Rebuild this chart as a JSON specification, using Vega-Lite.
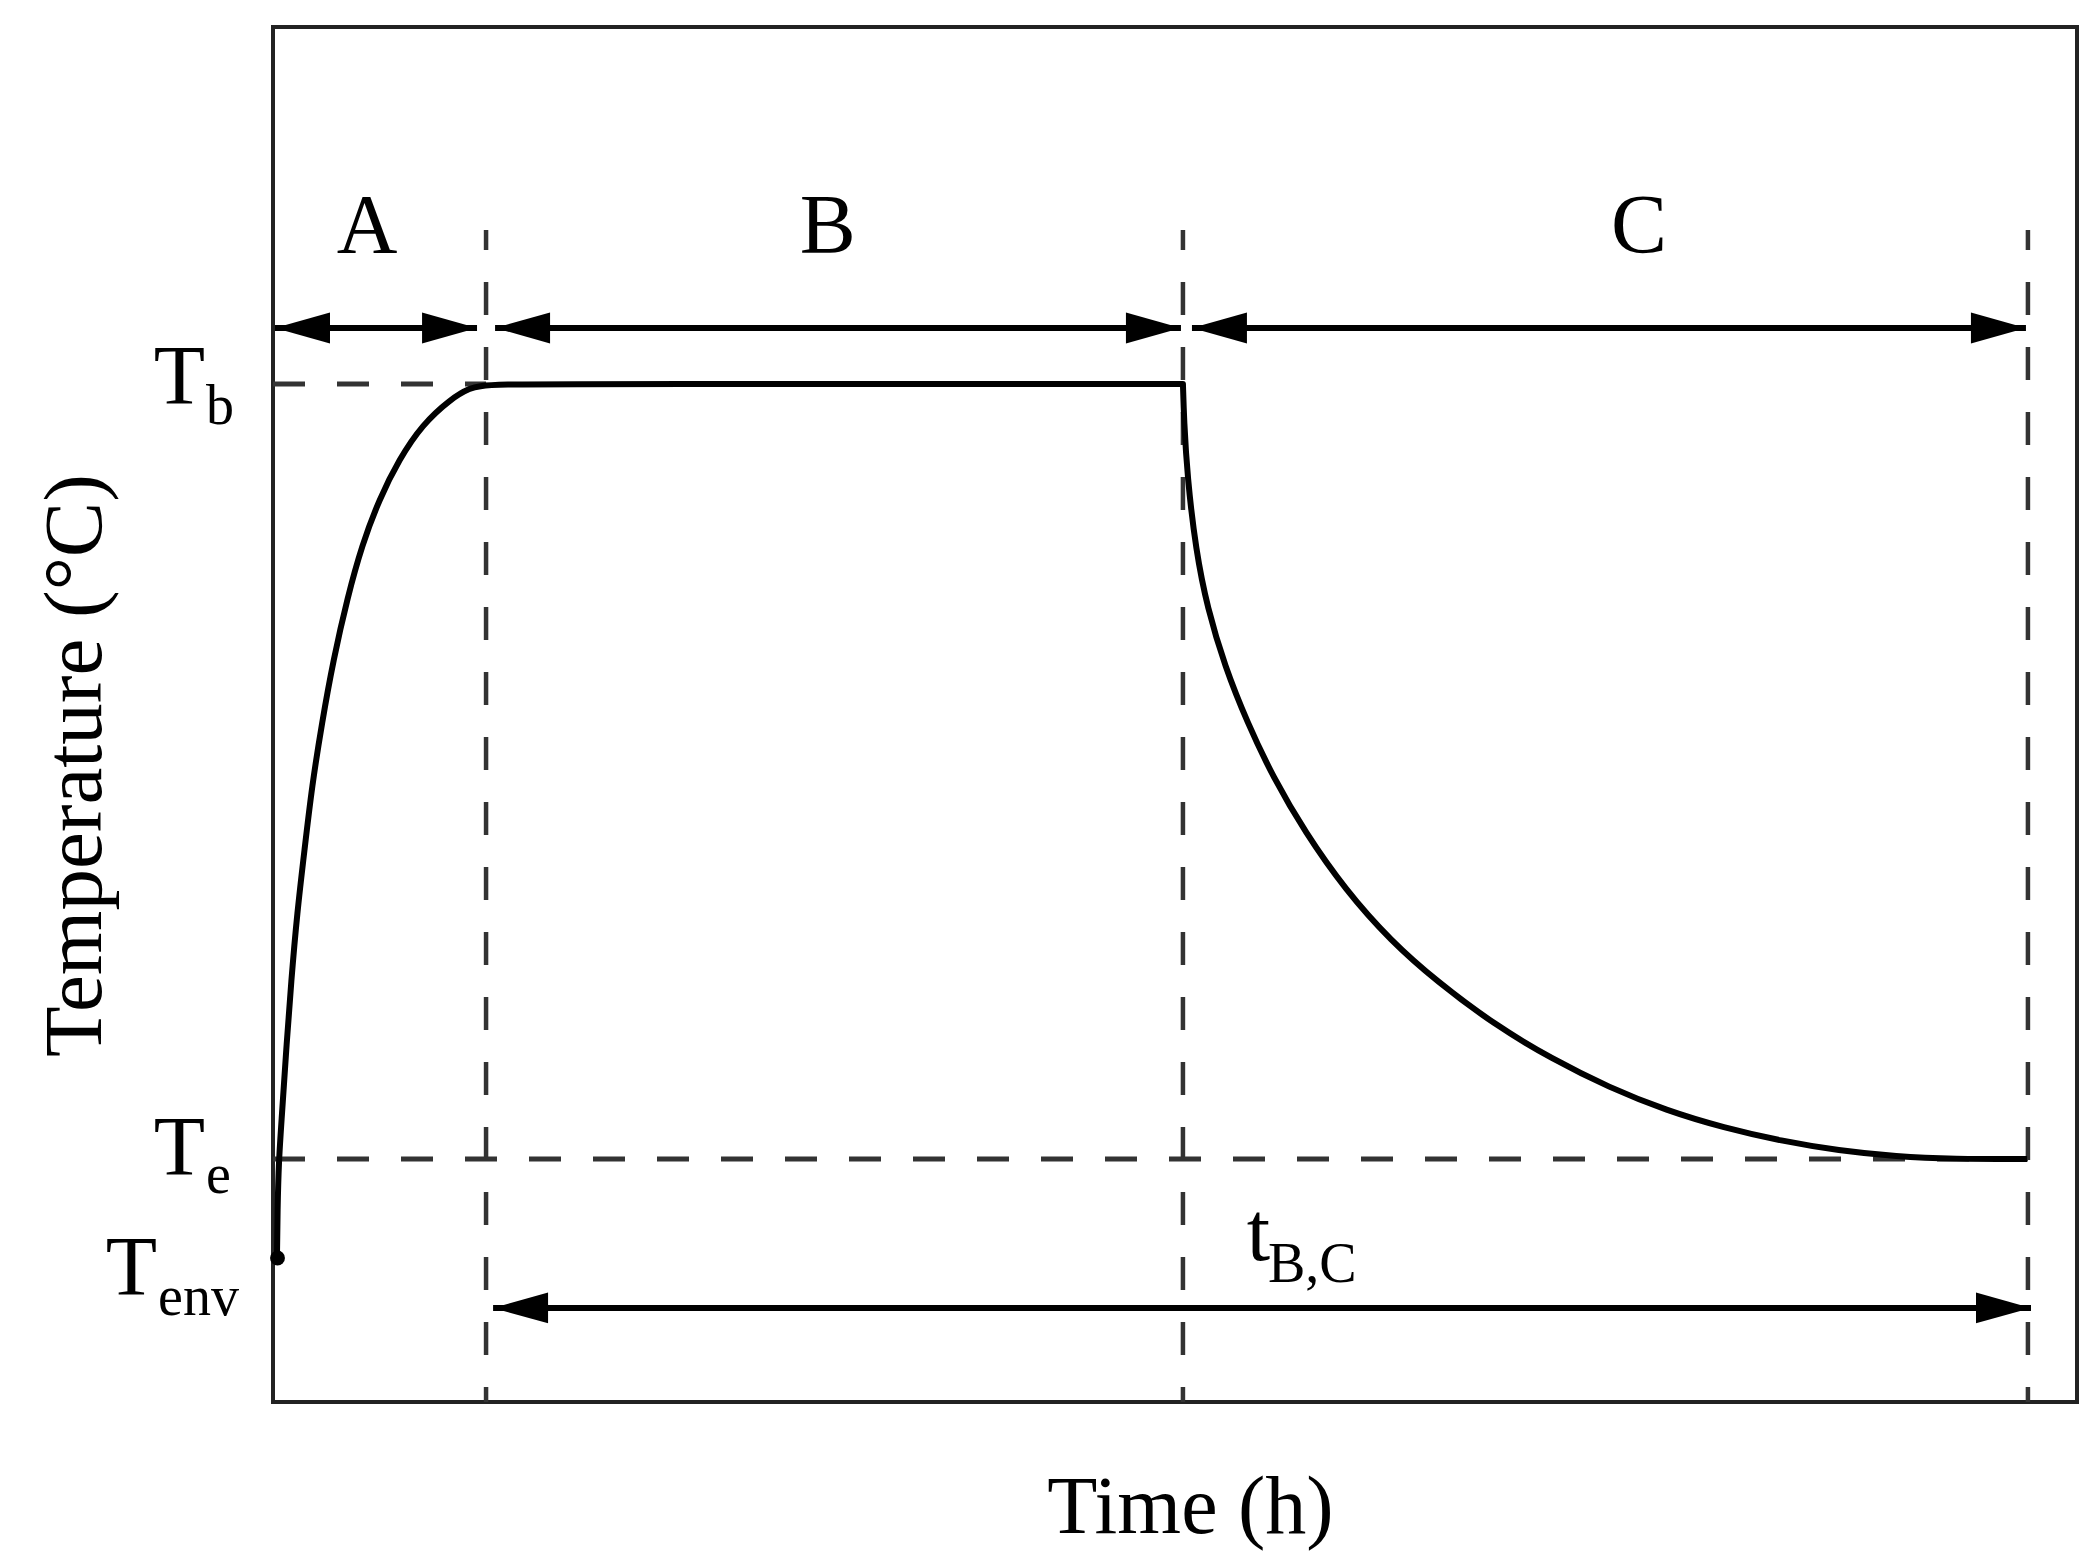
{
  "$schema": "https://vega.github.io/schema/vega-lite/v6.json",
  "width": 1804,
  "height": 1375,
  "autosize": {"type": "none"},
  "padding": {"left": 273, "top": 27, "right": 21, "bottom": 164},
  "background": "white",
  "config": {
    "view": {"stroke": "#222", "strokeWidth": 4},
    "font": "Liberation Serif"
  },
  "datasets": {
    "curve": [
      {"t": 0.22, "T": 10.47}, {"t": 0.25, "T": 13.96}, {"t": 0.32, "T": 17.53}, {"t": 0.48, "T": 20.58},
      {"t": 0.73, "T": 25.6}, {"t": 1.01, "T": 30.62}, {"t": 1.34, "T": 35.6}, {"t": 1.75, "T": 40.19},
      {"t": 2.16, "T": 44.79}, {"t": 2.71, "T": 49.37}, {"t": 3.34, "T": 53.96}, {"t": 4.14, "T": 58.56},
      {"t": 4.93, "T": 62.31}, {"t": 5.89, "T": 65.66}, {"t": 7.0, "T": 68.57}, {"t": 8.27, "T": 71.08},
      {"t": 9.86, "T": 72.96}, {"t": 10.91, "T": 73.75}, {"t": 11.81, "T": 74.04},
      {"t": 20.0, "T": 74.04}, {"t": 45.0, "T": 74.04},
      {"t": 50.44, "T": 74.04}, {"t": 50.44, "T": 74.04}, {"t": 50.44, "T": 74.04},
      {"t": 50.5, "T": 71.42}, {"t": 50.68, "T": 67.32}, {"t": 51.16, "T": 61.9}, {"t": 51.8, "T": 57.72},
      {"t": 52.75, "T": 53.55}, {"t": 54.02, "T": 49.37}, {"t": 55.45, "T": 45.41}, {"t": 57.21, "T": 41.44},
      {"t": 59.43, "T": 37.27}, {"t": 61.98, "T": 33.51}, {"t": 64.52, "T": 30.59}, {"t": 67.7, "T": 27.45},
      {"t": 70.89, "T": 24.95}, {"t": 74.07, "T": 22.87}, {"t": 77.25, "T": 21.19}, {"t": 80.43, "T": 19.94},
      {"t": 83.61, "T": 18.98}, {"t": 86.8, "T": 18.28}, {"t": 89.98, "T": 17.85}, {"t": 93.16, "T": 17.67},
      {"t": 97.23, "T": 17.67}
    ],
    "start": [{"t": 0.25, "T": 10.47}],
    "vguides": [
      {"t": 11.81, "T": 85.24, "T2": 0},
      {"t": 50.44, "T": 85.24, "T2": 0},
      {"t": 97.28, "T": 85.24, "T2": 0}
    ],
    "hguides": [
      {"t": 0, "t2": 11.81, "T": 74.04},
      {"t": 0, "t2": 97.28, "T": 17.67}
    ],
    "shafts": [
      {"t": 0.11, "t2": 11.31, "T": 78.11},
      {"t": 12.31, "t2": 50.33, "T": 78.11},
      {"t": 50.94, "t2": 97.17, "T": 78.11},
      {"t": 12.2, "t2": 97.45, "T": 6.84}
    ],
    "heads": [
      {"t": 0.11, "T": 78.11, "dir": "left"},
      {"t": 11.31, "T": 78.11, "dir": "right"},
      {"t": 12.31, "T": 78.11, "dir": "left"},
      {"t": 50.33, "T": 78.11, "dir": "right"},
      {"t": 50.94, "T": 78.11, "dir": "left"},
      {"t": 97.17, "T": 78.11, "dir": "right"},
      {"t": 12.2, "T": 6.84, "dir": "left"},
      {"t": 97.45, "T": 6.84, "dir": "right"}
    ],
    "phases": [
      {"t": 5.21, "T": 83.56, "label": "A"},
      {"t": 30.75, "T": 83.56, "label": "B"},
      {"t": 75.72, "T": 83.56, "label": "C"}
    ],
    "symbols": [
      {"t": -3.77, "T": 72.58, "label": "T"},
      {"t": -3.77, "T": 16.51, "label": "T"},
      {"t": -6.43, "T": 7.78, "label": "T"},
      {"t": 55.27, "T": 10.33, "label": "t"}
    ],
    "subscripts": [
      {"t": -3.72, "T": 71.13, "label": "b"},
      {"t": -3.72, "T": 15.2, "label": "e"},
      {"t": -6.37, "T": 6.33, "label": "env"},
      {"t": 55.15, "T": 8.73, "label": "B,C"}
    ]
  },
  "encoding": {
    "x": {
      "field": "t", "type": "quantitative",
      "scale": {"domain": [0, 100], "nice": false, "zero": false},
      "axis": {
        "title": "Time (h)", "labels": false, "ticks": false, "domain": false, "grid": false,
        "titleFont": "Liberation Serif", "titleFontSize": 82, "titleFontWeight": "normal",
        "titleColor": "#000", "titleBaseline": "alphabetic", "titlePadding": 130, "titleX": 917
      }
    },
    "y": {
      "field": "T", "type": "quantitative",
      "scale": {"domain": [0, 100], "nice": false, "zero": false},
      "axis": {
        "title": "Temperature (°C)", "labels": false, "ticks": false, "domain": false, "grid": false,
        "titleFont": "Liberation Serif", "titleFontSize": 83, "titleFontWeight": "normal",
        "titleColor": "#000", "titleBaseline": "alphabetic", "titlePadding": 173, "titleY": 738
      }
    }
  },
  "layer": [
    {
      "data": {"name": "vguides"},
      "mark": {"type": "rule", "color": "#333", "strokeWidth": 4.5, "strokeDash": [33, 32], "strokeDashOffset": 13},
      "encoding": {"y2": {"field": "T2"}}
    },
    {
      "data": {"name": "hguides"},
      "mark": {"type": "rule", "color": "#333", "strokeWidth": 5, "strokeDash": [32, 32]},
      "encoding": {"x2": {"field": "t2"}}
    },
    {
      "data": {"name": "shafts"},
      "mark": {"type": "rule", "color": "#000", "strokeWidth": 6},
      "encoding": {"x2": {"field": "t2"}}
    },
    {
      "data": {"name": "heads"},
      "mark": {"type": "point", "filled": true, "color": "#000", "opacity": 1, "size": 3025, "strokeWidth": 0},
      "encoding": {
        "shape": {
          "field": "dir", "type": "nominal", "legend": null,
          "scale": {"domain": ["left", "right"], "range": ["M0,0L2,-0.56L2,0.56Z", "M0,0L-2,-0.56L-2,0.56Z"]}
        }
      }
    },
    {
      "data": {"name": "curve"},
      "mark": {"type": "line", "color": "#000", "strokeWidth": 6, "strokeJoin": "round", "interpolate": "basis"},
      "encoding": {}
    },
    {
      "data": {"name": "start"},
      "mark": {"type": "point", "filled": true, "shape": "circle", "color": "#000", "opacity": 1, "size": 220}
    },
    {
      "data": {"name": "phases"},
      "mark": {"type": "text", "font": "Liberation Serif", "fontSize": 84, "align": "center", "baseline": "alphabetic", "color": "#000"},
      "encoding": {"text": {"field": "label"}}
    },
    {
      "data": {"name": "symbols"},
      "mark": {"type": "text", "font": "Liberation Serif", "fontSize": 84, "align": "right", "baseline": "alphabetic", "color": "#000"},
      "encoding": {"text": {"field": "label"}}
    },
    {
      "data": {"name": "subscripts"},
      "mark": {"type": "text", "font": "Liberation Serif", "fontSize": 56, "align": "left", "baseline": "alphabetic", "color": "#000"},
      "encoding": {"text": {"field": "label"}}
    }
  ]
}
